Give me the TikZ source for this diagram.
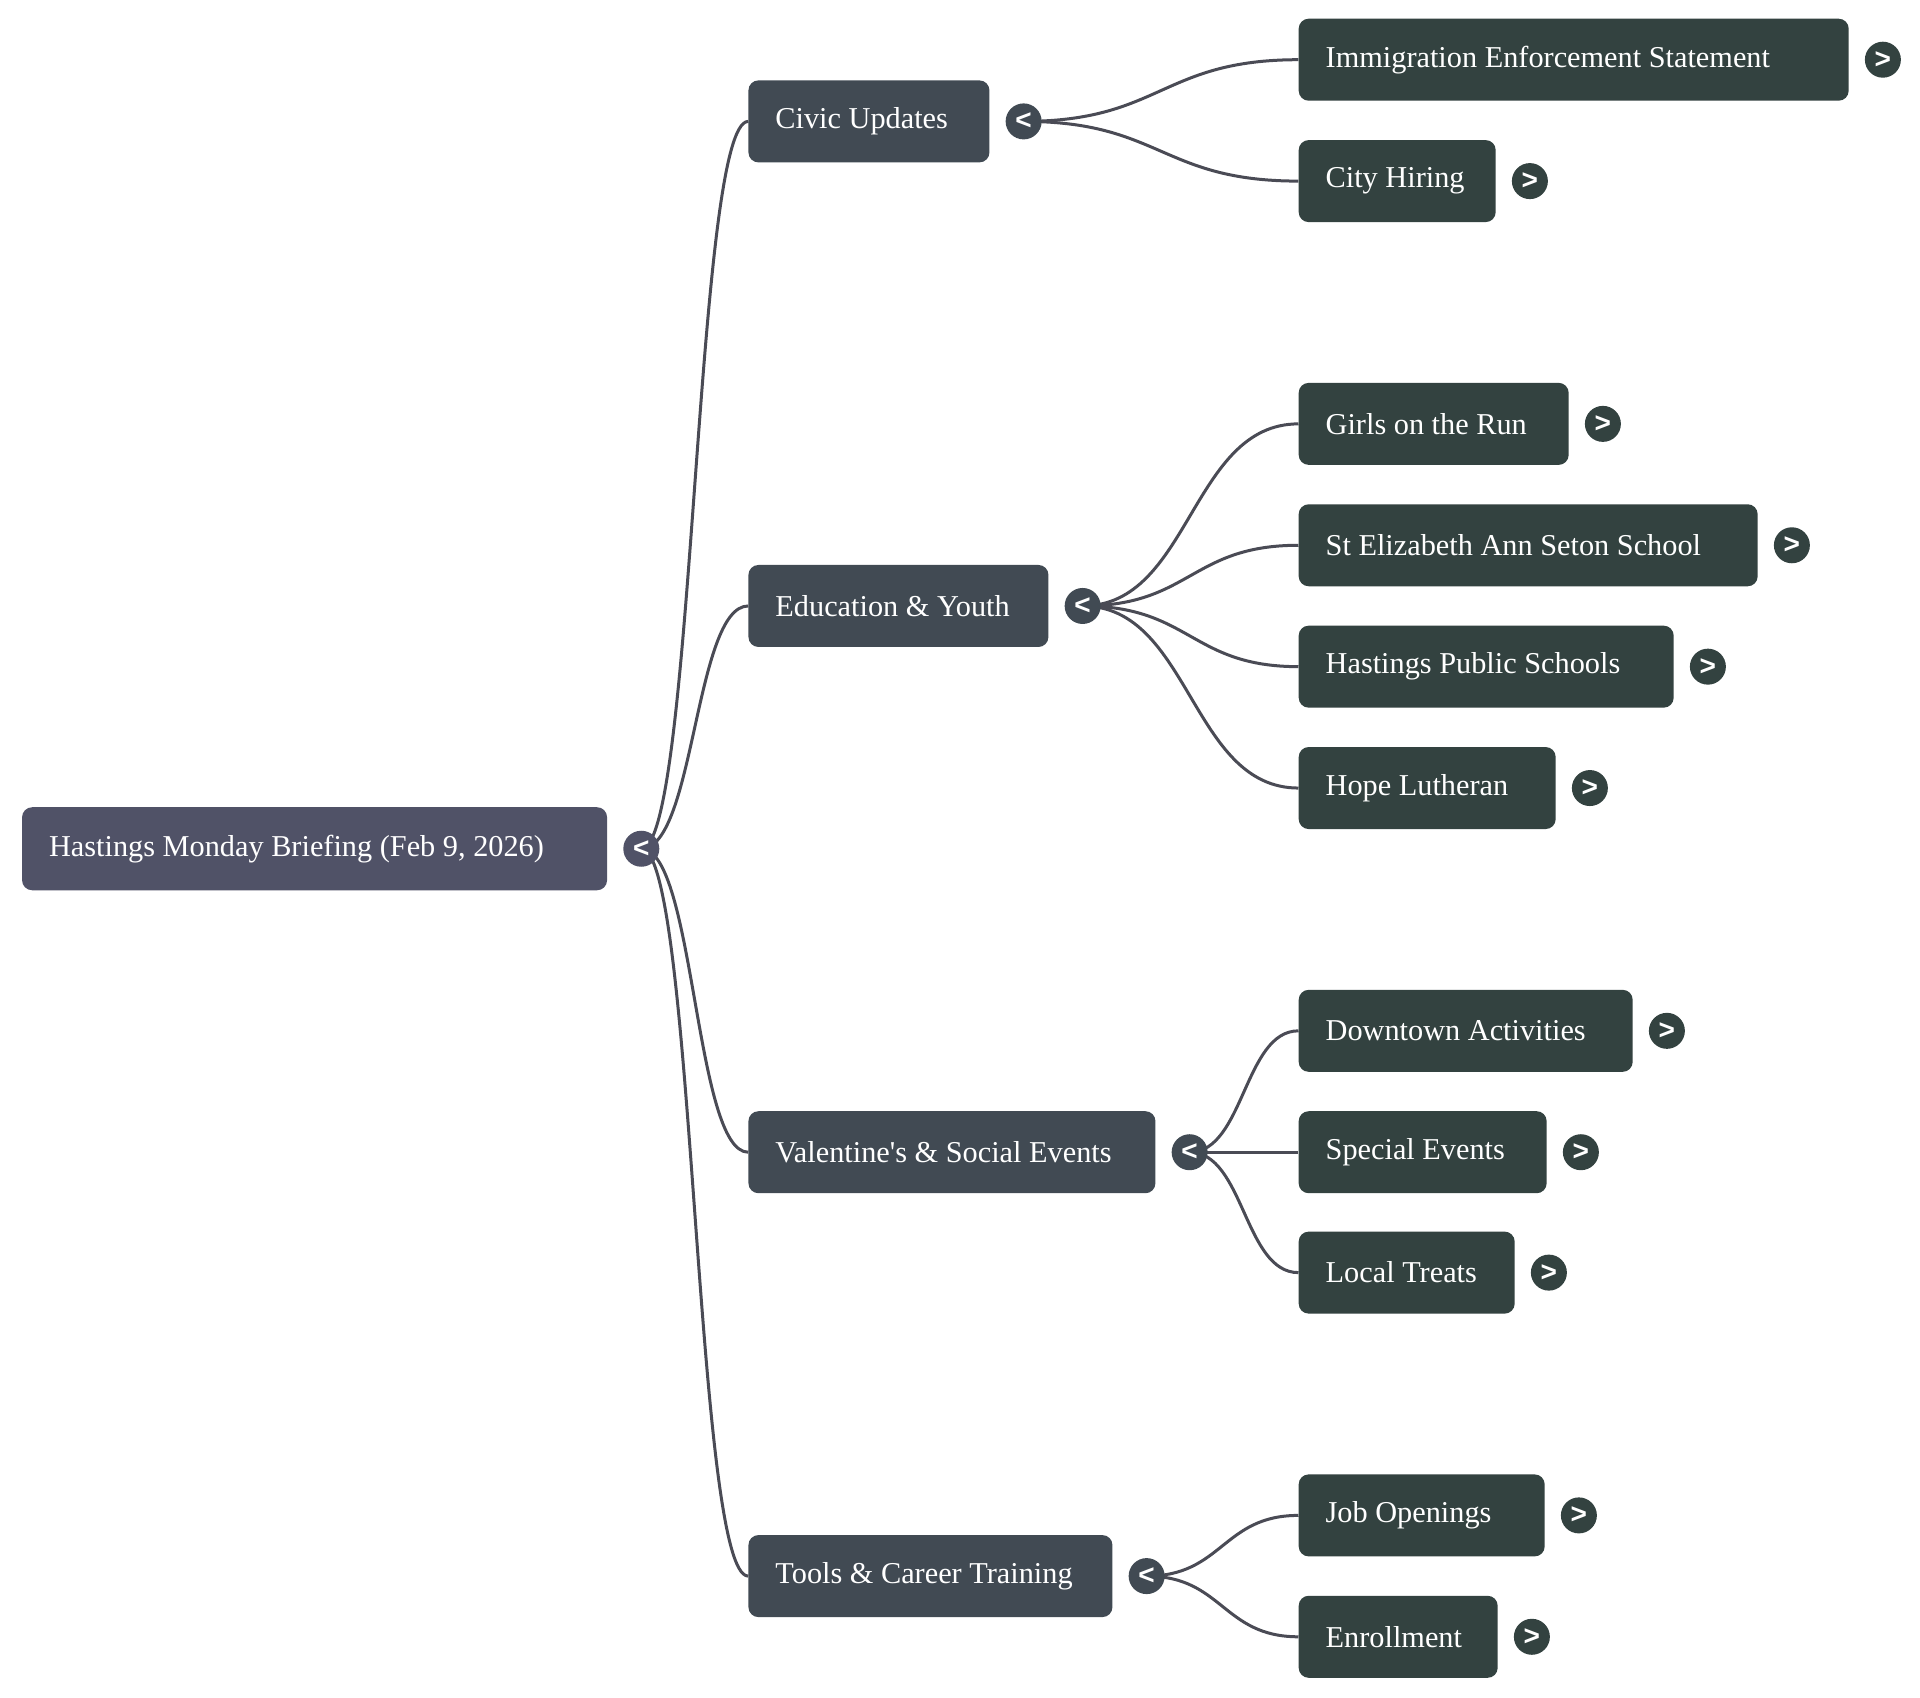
\documentclass[tikz,border=0pt]{standalone}
\usepackage{fontspec}
\newfontfamily\boxfont{Liberation Serif}
\newfontfamily\btnsans{Liberation Sans}
\usetikzlibrary{calc}
\definecolor{rootc}{HTML}{505267}
\definecolor{lonec}{HTML}{414A53}
\definecolor{ltwoc}{HTML}{334240}
\definecolor{linec}{HTML}{4A4B55}
\pgfdeclarelayer{bg}
\pgfdeclarelayer{edges}
\pgfsetlayers{bg,edges,main}
\newcommand\mmconn[2]{\draw[link] let \p1=(#1.center), \p2=(#2.west) in (\p1) .. controls ({0.5*\x1+0.5*\x2},\y1) and ({0.5*\x1+0.5*\x2},\y2) .. (\p2);}
\tikzset{
  box/.style={rounded corners=10pt, inner xsep=27pt, inner ysep=0pt, minimum height=82pt, anchor=west, text=white, font=\boxfont\fontsize{30.3}{36}\selectfont},
  rootbox/.style={box, fill=rootc, minimum height=83pt},
  lonebox/.style={box, fill=lonec},
  ltwobox/.style={box, fill=ltwoc},
  btn/.style={circle, inner sep=0pt, minimum size=36pt, text=white, font=\btnsans\bfseries\fontsize{28}{28}\selectfont},
  rootbtn/.style={btn, fill=rootc},
  lonebtn/.style={btn, fill=lonec},
  ltwobtn/.style={btn, fill=ltwoc},
  link/.style={draw=linec, line width=3pt},
}
\begin{document}
\begin{tikzpicture}[x=0.995pt,y=-0.995pt]
\begin{pgfonlayer}{bg}
\fill[white] (0,0) rectangle (1929.65,1706.53);
\end{pgfonlayer}
\useasboundingbox (0,0) rectangle (1929.65,1706.53);
% root
\node[rootbox] (root) at (22,853) {\makebox[531pt][l]{Hastings Monday Briefing (Feb 9, 2026)}};
\node[rootbtn] (rootb) at ([xshift=34pt]root.east) {<};
% level 1
\node[lonebox] (civic) at (752,122) {\makebox[187pt][l]{Civic Updates}};
\node[lonebtn] (civicb) at ([xshift=34pt]civic.east) {<};
\node[lonebox] (edu) at (752,609) {\makebox[246pt][l]{Education \& Youth}};
\node[lonebtn] (edub) at ([xshift=34pt]edu.east) {<};
\node[lonebox] (val) at (752,1158) {\makebox[353pt][l]{Valentine's \& Social Events}};
\node[lonebtn] (valb) at ([xshift=34pt]val.east) {<};
\node[lonebox] (tools) at (752,1584) {\makebox[310pt][l]{Tools \& Career Training}};
\node[lonebtn] (toolsb) at ([xshift=34pt]tools.east) {<};
% level 2
\node[ltwobox] (imm) at (1305,60) {\makebox[496pt][l]{Immigration Enforcement Statement}};
\node[ltwobtn] (immb) at ([xshift=34pt]imm.east) {>};
\node[ltwobox] (city) at (1305,182) {\makebox[143pt][l]{City Hiring}};
\node[ltwobtn] (cityb) at ([xshift=34pt]city.east) {>};
\node[ltwobox] (girls) at (1305,426) {\makebox[216pt][l]{Girls on the Run}};
\node[ltwobtn] (girlsb) at ([xshift=34pt]girls.east) {>};
\node[ltwobox] (stel) at (1305,548) {\makebox[405pt][l]{St Elizabeth Ann Seton School}};
\node[ltwobtn] (stelb) at ([xshift=34pt]stel.east) {>};
\node[ltwobox] (hps) at (1305,670) {\makebox[321pt][l]{Hastings Public Schools}};
\node[ltwobtn] (hpsb) at ([xshift=34pt]hps.east) {>};
\node[ltwobox] (hope) at (1305,792) {\makebox[203pt][l]{Hope Lutheran}};
\node[ltwobtn] (hopeb) at ([xshift=34pt]hope.east) {>};
\node[ltwobox] (down) at (1305,1036) {\makebox[280pt][l]{Downtown Activities}};
\node[ltwobtn] (downb) at ([xshift=34pt]down.east) {>};
\node[ltwobox] (spec) at (1305,1158) {\makebox[194pt][l]{Special Events}};
\node[ltwobtn] (specb) at ([xshift=34pt]spec.east) {>};
\node[ltwobox] (local) at (1305,1279) {\makebox[162pt][l]{Local Treats}};
\node[ltwobtn] (localb) at ([xshift=34pt]local.east) {>};
\node[ltwobox] (job) at (1305,1523) {\makebox[192pt][l]{Job Openings}};
\node[ltwobtn] (jobb) at ([xshift=34pt]job.east) {>};
\node[ltwobox] (enr) at (1305,1645) {\makebox[145pt][l]{Enrollment}};
\node[ltwobtn] (enrb) at ([xshift=34pt]enr.east) {>};
% connectors
\begin{pgfonlayer}{edges}
\mmconn{rootb}{civic}
\mmconn{rootb}{edu}
\mmconn{rootb}{val}
\mmconn{rootb}{tools}
\mmconn{civicb}{imm}
\mmconn{civicb}{city}
\mmconn{edub}{girls}
\mmconn{edub}{stel}
\mmconn{edub}{hps}
\mmconn{edub}{hope}
\mmconn{valb}{down}
\mmconn{valb}{spec}
\mmconn{valb}{local}
\mmconn{toolsb}{job}
\mmconn{toolsb}{enr}
\end{pgfonlayer}
\end{tikzpicture}
\end{document}
